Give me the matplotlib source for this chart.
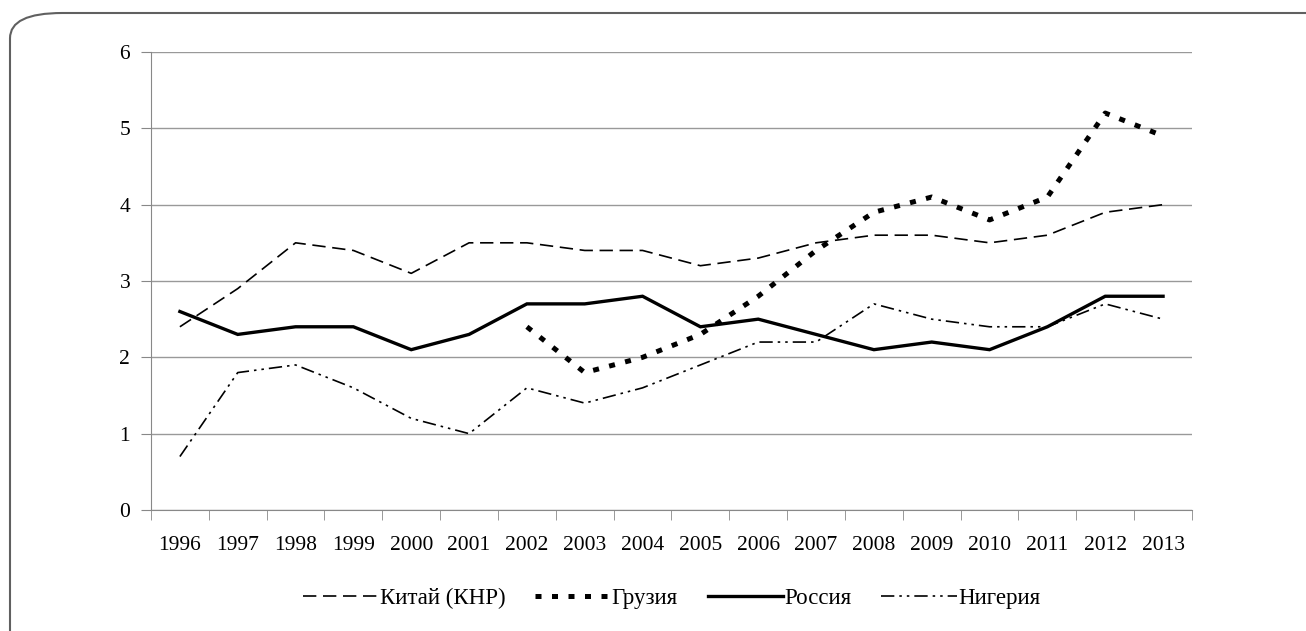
import matplotlib
matplotlib.use("Agg")
import matplotlib.pyplot as plt
import numpy as np
from matplotlib.patches import FancyBboxPatch

plt.rcParams["font.family"] = ["Liberation Serif", "DejaVu Serif"]

years = [str(y) for y in range(1996, 2014)]
china = [2.4, 2.9, 3.5, 3.4, 3.1, 3.5, 3.5, 3.4, 3.4, 3.2, 3.3, 3.5, 3.6, 3.6, 3.5, 3.6, 3.9, 4.0]
georgia = [None] * 6 + [2.4, 1.8, 2.0, 2.3, 2.8, 3.4, 3.9, 4.1, 3.8, 4.1, 5.2, 4.9]
russia = [2.6, 2.3, 2.4, 2.4, 2.1, 2.3, 2.7, 2.7, 2.8, 2.4, 2.5, 2.3, 2.1, 2.2, 2.1, 2.4, 2.8, 2.8]
nigeria = [0.7, 1.8, 1.9, 1.6, 1.2, 1.0, 1.6, 1.4, 1.6, 1.9, 2.2, 2.2, 2.7, 2.5, 2.4, 2.4, 2.7, 2.5]

fig = plt.figure(figsize=(13.06, 6.31), dpi=100)
ax = fig.add_axes([0.1156, 0.1918, 0.7971, 0.7258])

# rounded frame around the chart (right/bottom edges run off the image)
frame = FancyBboxPatch((10 / 1306, 1 - 700 / 631), 1400 / 1306, (700 - 13) / 631,
                       boxstyle="round,pad=0,rounding_size=0.04",
                       transform=fig.transFigure, fill=False,
                       edgecolor="#606060", linewidth=1.5, clip_on=False)
fig.patches.append(frame)

x = np.arange(len(years))
geo = np.array([np.nan if v is None else v for v in georgia], dtype=float)

ax.plot(x, china, color="black", lw=1.2, dashes=(8, 4), label="Китай (КНР)")
ax.plot(x, geo, color="black", lw=3.6, dashes=(1.2, 2.1), label="Грузия")
ax.plot(x, russia, color="black", lw=2.4, solid_joinstyle="miter", label="Россия")
ax.plot(x, nigeria, color="black", lw=1.2, dashes=(8, 3, 1.5, 3, 1.5, 3), label="Нигерия")

ax.set_xlim(-0.5, len(years) - 0.5)
ax.set_ylim(0, 6)
ax.set_yticks(range(0, 7))
ax.set_xticks(x)
ax.set_xticklabels(years)
ax.set_xticks(np.arange(-0.5, len(years)), minor=True)
ax.tick_params(axis="x", which="major", length=0, pad=19, labelsize=15.5)
ax.tick_params(axis="x", which="minor", length=7, color="#888888")
ax.tick_params(axis="y", length=7, color="#888888", pad=8, labelsize=15.5)
ax.grid(axis="y", color="#999999", lw=1)
ax.set_axisbelow(True)
for s in ["top", "right"]:
    ax.spines[s].set_visible(False)
for s in ["left", "bottom"]:
    ax.spines[s].set_color("#888888")

ax.legend(loc="upper center", bbox_to_anchor=(0.5, -0.125), ncol=4, frameon=False,
          fontsize=16.5, handlelength=3.3, handletextpad=0.05, columnspacing=1.3)

fig.savefig("out.png", dpi=100)
